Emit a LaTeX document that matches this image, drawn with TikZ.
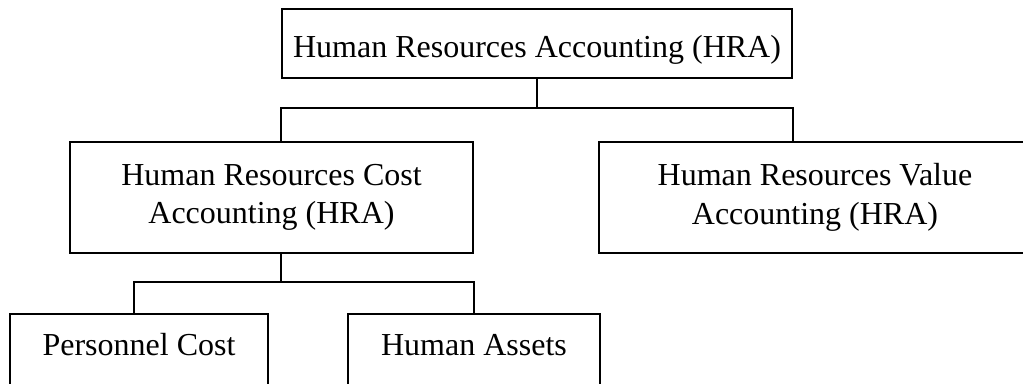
\documentclass[tikz,border=0pt]{standalone}
\usepackage{fontspec}
\setmainfont{Liberation Serif}
\begin{document}
\begin{tikzpicture}[
  x=0.75pt, y=-0.75pt,
  every node/.style={font=\fontsize{24pt}{29pt}\selectfont},
  box/.style={draw, line width=1.2pt, rectangle, inner sep=0pt, align=center},
  link/.style={draw, line width=1.2pt}
]
  % page frame (1023 x 383 px); the lower boxes and the right box run past it
  \useasboundingbox (0,0) rectangle (1023,383);
  \clip (0,0) rectangle (1023,383);

  % top level
  \node[box, minimum width=382.5pt, text height=36pt, text depth=15.75pt]
    (hra) at (537,43.5) {Human Resources Accounting (HRA)};

  % second level
  \node[box, minimum width=302.25pt, minimum height=83.25pt]
    (hrca) at (271.5,197.5) {Human Resources Cost\\Accounting (HRA)};
  \node[box, minimum width=324pt, minimum height=83.25pt]
    (hrva) at (815,197.5) {Human Resources Value\\Accounting (HRA)};

  % third level
  \node[box, minimum width=193.5pt, text height=30.75pt, text depth=26.25pt, anchor=base]
    (pc) at (139,355) {Personnel Cost};
  \node[box, minimum width=189pt, text height=30.75pt, text depth=26.25pt, anchor=base]
    (ha) at (474,355) {Human Assets};

  % bus lines
  \coordinate (bus1) at (537,108);
  \coordinate (bus2) at (282,282);
  \coordinate (tapL) at (134,282);
  \coordinate (tapR) at (474,282);

  \draw[link] (hra.south) -- (hra.south |- bus1);
  \draw[link] (hra.west |- hrca.north) -- (hra.west |- bus1)
              -- (hra.east |- bus1) -- (hra.east |- hrva.north);

  \draw[link] (hra.west |- hrca.south) -- (hra.west |- bus2);
  \draw[link] (tapL |- pc.north) -- (tapL) -- (tapR) -- (tapR |- ha.north);
\end{tikzpicture}
\end{document}
